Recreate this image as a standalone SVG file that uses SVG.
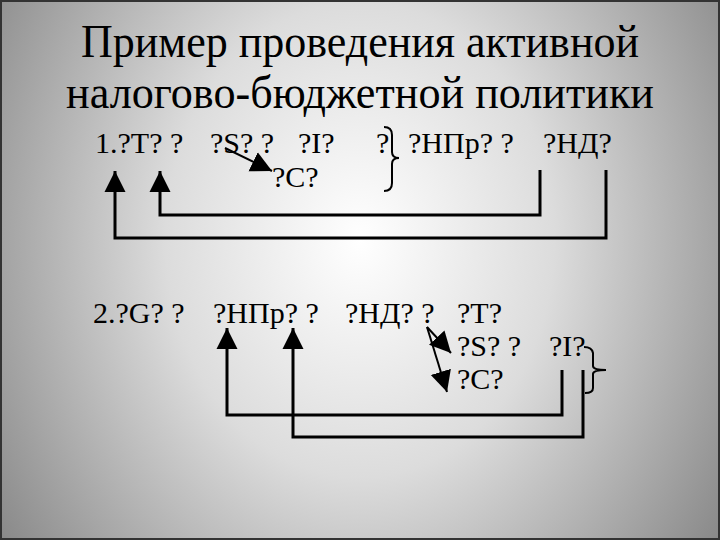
<svg xmlns="http://www.w3.org/2000/svg" width="720" height="540" viewBox="0 0 720 540">
<defs>
<radialGradient id="bg" cx="360" cy="240" r="480" gradientUnits="userSpaceOnUse" gradientTransform="translate(360 240) scale(0.9 1.1) translate(-360 -240)">
<stop offset="0" stop-color="#ffffff"/>
<stop offset="0.45" stop-color="#dcdcdc"/>
<stop offset="1" stop-color="#8a8a8a"/>
</radialGradient>
<marker id="ah" viewBox="0 0 10 10" refX="10" refY="5" markerWidth="21" markerHeight="22" markerUnits="userSpaceOnUse" orient="auto">
<path d="M0,0 L10,5 L0,10 Z" fill="#000"/>
</marker>
</defs>
<style>
.t{font-family:"Liberation Serif","Times New Roman",serif;fill:#000}
.title{font-size:46px}
.lbl{font-size:30px}
.ln{fill:none;stroke:#000;stroke-width:3}
.thin{fill:none;stroke:#000;stroke-width:2}
.br{fill:none;stroke:#000;stroke-width:2}
</style>
<rect x="0" y="0" width="720" height="540" fill="url(#bg)"/>
<rect x="1" y="1" width="718" height="538" fill="none" stroke="#333" stroke-width="2"/>

<g id="title">
<text class="t title" x="360" y="57" text-anchor="middle" textLength="558" lengthAdjust="spacingAndGlyphs">Пример проведения активной</text>
<text class="t title" x="360" y="108" text-anchor="middle" textLength="588" lengthAdjust="spacingAndGlyphs">налогово-бюджетной политики</text>
</g>

<g id="row1">
<text class="t lbl" x="95" y="153">1.?T? ?</text>
<text class="t lbl" x="210" y="153">?S? ?</text>
<text class="t lbl" x="298" y="153">?I?</text>
<text class="t lbl" x="376" y="153">?</text>
<text class="t lbl" x="408" y="153">?НПр? ?</text>
<text class="t lbl" x="543" y="153">?НД?</text>
<text class="t lbl" x="272" y="187">?C?</text>
<path class="br" d="M384,127 Q392,127 392,135 L392,152 Q392,158 399,158 Q392,158 392,164 L392,183 Q392,191 384,191"/>
</g>

<g id="row2">
<text class="t lbl" x="93" y="323">2.?G? ?</text>
<text class="t lbl" x="213" y="323">?НПр? ?</text>
<text class="t lbl" x="345" y="323">?НД? ?</text>
<text class="t lbl" x="457" y="323">?T?</text>
<text class="t lbl" x="457" y="356">?S? ?</text>
<text class="t lbl" x="549" y="356">?I?</text>
<text class="t lbl" x="457" y="389">?C?</text>
<path class="br" d="M584,347 Q592,347 593,353 L593,366 Q593,370 606,370 Q593,370 593,374 L593,388 Q593,393 585,393"/>
</g>

<g id="connectors">
<polyline class="ln" points="606,170 606,238 115,238 115,171" marker-end="url(#ah)"/>
<polyline class="ln" points="540,170 540,215 160,215 160,171" marker-end="url(#ah)"/>
<line class="thin" x1="225" y1="148" x2="272" y2="171" marker-end="url(#ah)"/>
<polyline class="ln" points="562,370 562,415 227,415 227,328" marker-end="url(#ah)"/>
<polyline class="ln" points="583,370 583,437 293,437 293,328" marker-end="url(#ah)"/>
<line class="thin" x1="427" y1="327" x2="451" y2="353" marker-end="url(#ah)"/>
<line class="thin" x1="427" y1="327" x2="447" y2="392" marker-end="url(#ah)"/>
</g>
</svg>
